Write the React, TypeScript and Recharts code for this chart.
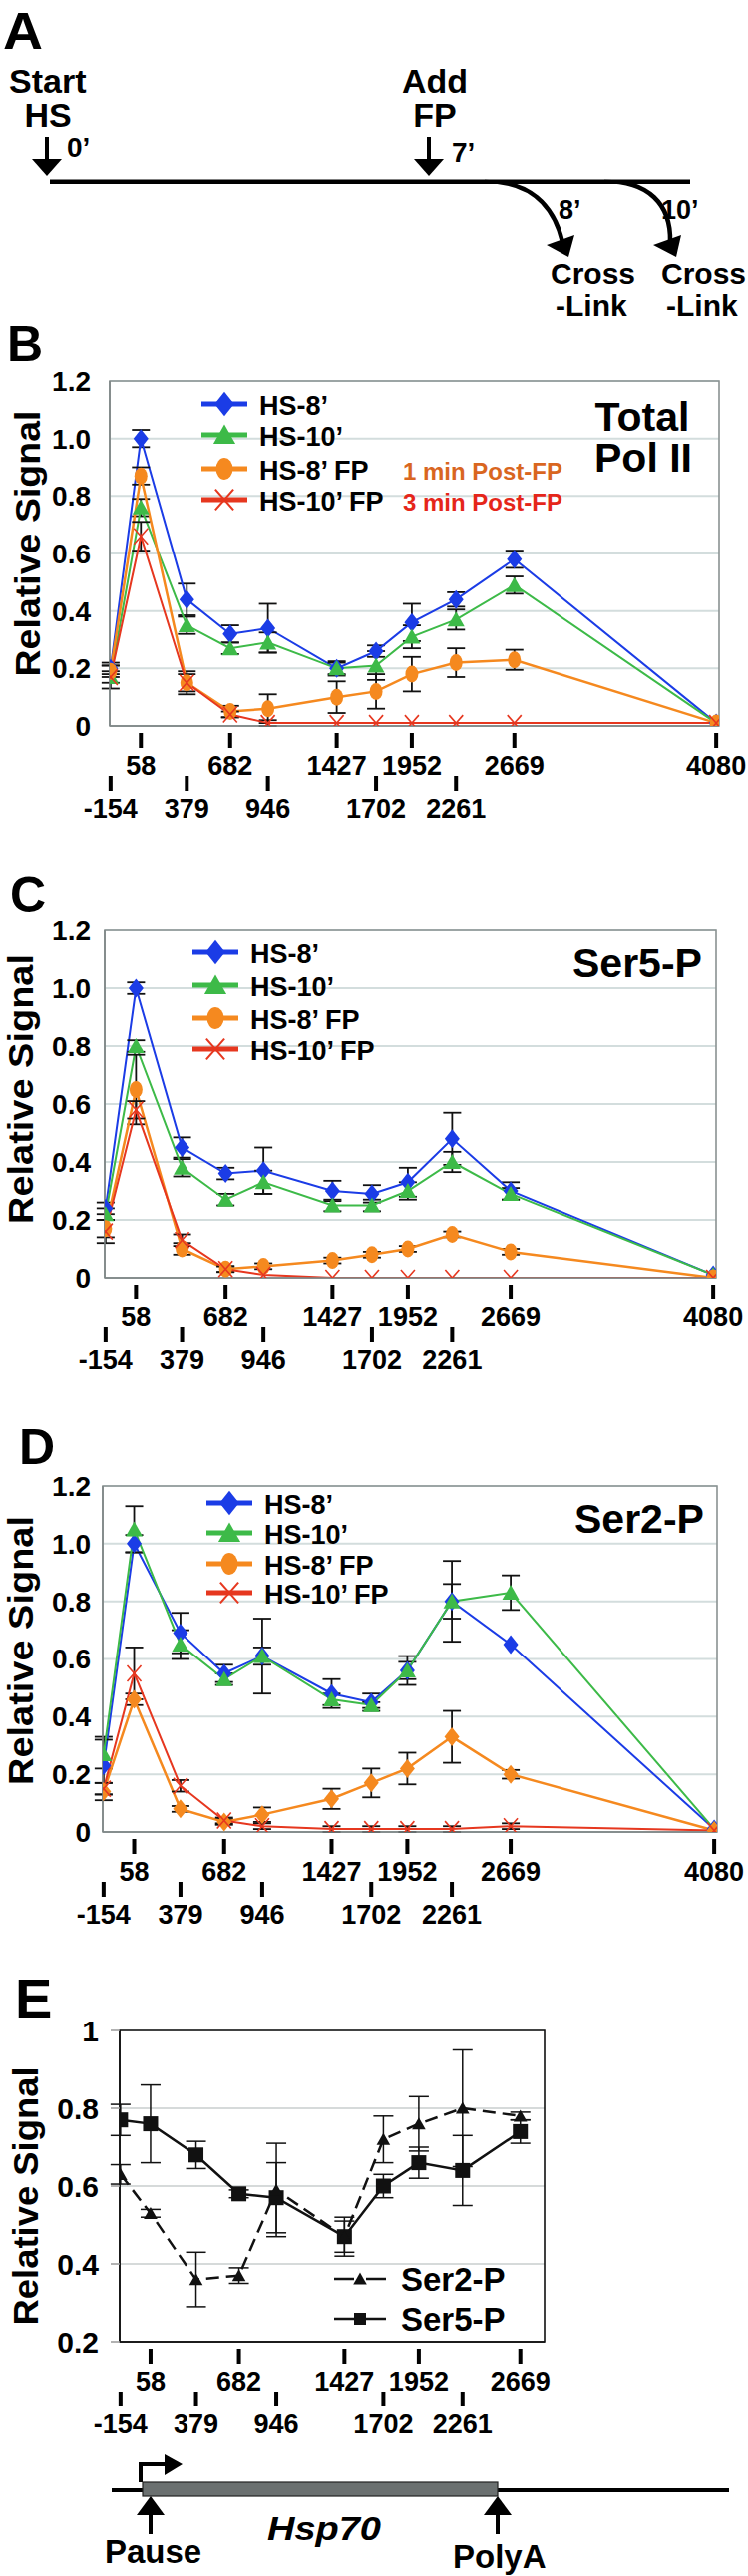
import React from "react";
import { CartesianGrid, ErrorBar, Line, LineChart, ReferenceArea, XAxis, YAxis } from "recharts";

const FONT = "'Liberation Sans', Arial, Helvetica, sans-serif";

// probe positions along Hsp70 (bp)
const positions = [-154, 58, 379, 682, 946, 1427, 1702, 1952, 2261, 2669, 4080];
const positionsE = [-154, 58, 379, 682, 946, 1427, 1702, 1952, 2261, 2669];
const upperRow = [58, 682, 1427, 1952, 2669, 4080];
const signalTicks = [0, 0.2, 0.4, 0.6, 0.8, 1.0, 1.2];
const signalTicksE = [0.2, 0.4, 0.6, 0.8, 1];

// B: Total Pol II
const totHs8 = [0.2, 1.0, 0.44, 0.32, 0.34, 0.2, 0.26, 0.36, 0.44, 0.58, 0.01];
const totHs8Err = [0.02, 0.03, 0.055, 0.03, 0.085, 0.025, 0.02, 0.065, 0.025, 0.03, 0];
const totHs10 = [0.17, 0.76, 0.35, 0.27, 0.29, 0.2, 0.21, 0.31, 0.37, 0.49, 0.01];
const totHs10Err = [0.04, 0.03, 0.03, 0.02, 0.035, 0.02, 0.05, 0.04, 0.035, 0.03, 0];
const totFp8 = [0.19, 0.87, 0.15, 0.05, 0.06, 0.1, 0.12, 0.18, 0.22, 0.23, 0.01];
const totFp8Err = [0.02, 0.03, 0.04, 0.02, 0.05, 0.055, 0.06, 0.06, 0.05, 0.035, 0];
const totFp10 = [0.17, 0.66, 0.15, 0.04, 0.01, 0.01, 0.01, 0.01, 0.01, 0.01, 0.01];
const totFp10Err = [0.02, 0.05, 0.03, 0.01, 0.01, 0, 0, 0, 0, 0, 0];

// C: Ser5-P
const s5Hs8 = [0.24, 1.0, 0.45, 0.36, 0.37, 0.3, 0.29, 0.33, 0.48, 0.3, 0.01];
const s5Hs8Err = [0.02, 0.02, 0.035, 0.02, 0.08, 0.035, 0.03, 0.05, 0.09, 0.03, 0];
const s5Hs10 = [0.22, 0.8, 0.38, 0.27, 0.33, 0.25, 0.25, 0.3, 0.4, 0.29, 0.01];
const s5Hs10Err = [0.02, 0.02, 0.03, 0.02, 0.04, 0.02, 0.02, 0.03, 0.035, 0.02, 0];
const s5Fp8 = [0.17, 0.65, 0.1, 0.03, 0.04, 0.06, 0.08, 0.1, 0.15, 0.09, 0];
const s5Fp8Err = [0.03, 0.12, 0.02, 0.01, 0.01, 0.01, 0.01, 0.01, 0.01, 0.01, 0];
const s5Fp10 = [0.16, 0.58, 0.13, 0.03, 0.01, 0, 0, 0, 0, 0, 0];
const s5Fp10Err = [0.04, 0.03, 0.02, 0.01, 0, 0, 0, 0, 0, 0, 0];

// D: Ser2-P
const s2Hs8 = [0.23, 1.0, 0.69, 0.55, 0.61, 0.48, 0.45, 0.56, 0.8, 0.65, 0.01];
const s2Hs8Err = [0.1, 0.03, 0.07, 0.03, 0.13, 0.05, 0.03, 0.05, 0.06, 0, 0];
const s2Hs10 = [0.27, 1.05, 0.65, 0.53, 0.61, 0.46, 0.44, 0.56, 0.8, 0.83, 0.01];
const s2Hs10Err = [0.05, 0.08, 0.05, 0.02, 0.03, 0.02, 0.01, 0.03, 0.14, 0.06, 0];
const s2Fp8 = [0.14, 0.46, 0.08, 0.035, 0.06, 0.115, 0.17, 0.22, 0.33, 0.2, 0.005];
const s2Fp8Err = [0.03, 0.02, 0.01, 0.01, 0.025, 0.035, 0.05, 0.055, 0.09, 0.015, 0];
const s2Fp10 = [0.15, 0.55, 0.16, 0.04, 0.02, 0.01, 0.01, 0.01, 0.01, 0.02, 0.005];
const s2Fp10Err = [0.02, 0.09, 0.02, 0.01, 0.01, 0.01, 0.01, 0.01, 0.01, 0.01, 0];

// E: relative Ser2-P / Ser5-P
const eSer5 = [0.77, 0.76, 0.68, 0.58, 0.57, 0.47, 0.6, 0.66, 0.64, 0.74];
const eSer5Err = [0.04, 0.1, 0.035, 0.01, 0.09, 0.05, 0.03, 0.04, 0.09, 0.03];
const eSer2 = [0.63, 0.53, 0.36, 0.37, 0.59, 0.47, 0.72, 0.76, 0.8, 0.78];
const eSer2Err = [0.025, 0.01, 0.07, 0.02, 0.12, 0.04, 0.06, 0.07, 0.15, 0.01];

const COLORS = { hs8: "#1b3ce6", hs10: "#3dba48", fp8: "#f5891f", fp10: "#e6371f" };

const rows = (a: number[], ae: number[], b: number[], be: number[], c: number[], ce: number[], d: number[], de: number[]) =>
  positions.map((pos, i) => ({
    pos,
    hs8: a[i], hs8Err: ae[i],
    hs10: b[i], hs10Err: be[i],
    fp8: c[i], fp8Err: ce[i],
    fp10: d[i], fp10Err: de[i],
  }));

const dataB = rows(totHs8, totHs8Err, totHs10, totHs10Err, totFp8, totFp8Err, totFp10, totFp10Err);
const dataC = rows(s5Hs8, s5Hs8Err, s5Hs10, s5Hs10Err, s5Fp8, s5Fp8Err, s5Fp10, s5Fp10Err);
const dataD = rows(s2Hs8, s2Hs8Err, s2Hs10, s2Hs10Err, s2Fp8, s2Fp8Err, s2Fp10, s2Fp10Err);
const dataE = positionsE.map((pos, i) => ({ pos, ser5: eSer5[i], ser5Err: eSer5Err[i], ser2: eSer2[i], ser2Err: eSer2Err[i] }));

type Shape = "diamond" | "triangle" | "ellipse" | "cross" | "square";

function marker(shape: Shape, cx: number, cy: number, color: string, s: number, key?: string) {
  if (cx == null || cy == null || isNaN(cx) || isNaN(cy)) return <g key={key} />;
  if (shape === "diamond") {
    const w = 7.5 * s, h = 9.5 * s;
    return <path key={key} d={`M${cx},${cy - h}L${cx + w},${cy}L${cx},${cy + h}L${cx - w},${cy}Z`} fill={color} />;
  }
  if (shape === "triangle") {
    return <path key={key} d={`M${cx},${cy - 8 * s}L${cx + 8.5 * s},${cy + 7 * s}L${cx - 8.5 * s},${cy + 7 * s}Z`} fill={color} />;
  }
  if (shape === "ellipse") return <ellipse key={key} cx={cx} cy={cy} rx={6.5 * s} ry={8.5 * s} fill={color} />;
  if (shape === "square") return <rect key={key} x={cx - 7.5 * s} y={cy - 7.5 * s} width={15 * s} height={15 * s} fill={color} />;
  const w = 7 * s, h = 8 * s;
  return (
    <g key={key} stroke={color} strokeWidth={1.6 * s}>
      <line x1={cx - w} y1={cy - h} x2={cx + w} y2={cy + h} />
      <line x1={cx - w} y1={cy + h} x2={cx + w} y2={cy - h} />
    </g>
  );
}

const dotFor = (shape: Shape, color: string, s = 1) => (p: any) => marker(shape, p.cx, p.cy, color, s, `m-${p.index}`);

function GeneTick(props: any) {
  const { x, y, payload } = props;
  const upper = upperRow.includes(payload.value);
  return (
    <g>
      <rect x={x - 2} y={y + (upper ? 7 : 50)} width={4} height={15} fill="#000" />
      <text x={x} y={y + (upper ? 49 : 92)} textAnchor="middle" fontFamily={FONT} fontWeight="bold" fontSize={27} fill="#000">
        {payload.value}
      </text>
    </g>
  );
}

function Txt({ x, y, size, children, anchor = "start", fill = "#000", len, italic = false }: any) {
  const extra = len ? { textLength: len, lengthAdjust: "spacingAndGlyphs" } : {};
  return (
    <text x={x} y={y} fontSize={size} fontFamily={FONT} fontWeight="bold" fontStyle={italic ? "italic" : "normal"} textAnchor={anchor} fill={fill} {...extra}>
      {children}
    </text>
  );
}

function PolPanel({ data, plotTop, plotBottom, plotLeft, plotRight, orangeShape }: any) {
  const top = plotTop - 20;
  const height = plotBottom - plotTop + 130;
  const err = { width: 9, strokeWidth: 1.8, stroke: "#111", direction: "y" as const };
  return (
    <div style={{ position: "absolute", left: 0, top }}>
      <LineChart width={750} height={height} data={data} margin={{ top: 20, right: 750 - plotRight, bottom: 109, left: plotLeft - 1 }}>
        <CartesianGrid vertical={false} stroke="#d3dddd" strokeWidth={2} />
        <ReferenceArea x1={-160} x2={4100} y1={0} y2={1.2} fill="none" stroke="#8a9292" strokeWidth={1.6} />
        <XAxis type="number" dataKey="pos" domain={[-160, 4100]} ticks={positions} interval={0} height={1} tickSize={0} tickMargin={0} axisLine={{ stroke: "#7f8787", strokeWidth: 1.6 }} tickLine={false} tick={<GeneTick />} allowDataOverflow />
        <YAxis type="number" domain={[0, 1.2]} ticks={signalTicks} interval={0} width={1} tickSize={0} tickMargin={plotLeft - 91} axisLine={{ stroke: "#7f8787", strokeWidth: 1.6 }} tickLine={false} tickFormatter={(v: number) => (v === 0 ? "0" : v.toFixed(1))} tick={{ fontFamily: FONT, fontWeight: "bold", fontSize: 28, fill: "#000" }} allowDataOverflow />
        <Line type="linear" dataKey="hs8" stroke={COLORS.hs8} strokeWidth={2} dot={dotFor("diamond", COLORS.hs8)} activeDot={false} isAnimationActive={false}>
          <ErrorBar dataKey="hs8Err" {...err} />
        </Line>
        <Line type="linear" dataKey="hs10" stroke={COLORS.hs10} strokeWidth={2} dot={dotFor("triangle", COLORS.hs10)} activeDot={false} isAnimationActive={false}>
          <ErrorBar dataKey="hs10Err" {...err} />
        </Line>
        <Line type="linear" dataKey="fp8" stroke={COLORS.fp8} strokeWidth={2.5} dot={dotFor(orangeShape, COLORS.fp8)} activeDot={false} isAnimationActive={false}>
          <ErrorBar dataKey="fp8Err" {...err} />
        </Line>
        <Line type="linear" dataKey="fp10" stroke={COLORS.fp10} strokeWidth={2} dot={dotFor("cross", COLORS.fp10)} activeDot={false} isAnimationActive={false}>
          <ErrorBar dataKey="fp10Err" {...err} />
        </Line>
      </LineChart>
    </div>
  );
}

function PanelE() {
  const plotTop = 2036, plotBottom = 2348, plotLeft = 120, plotRight = 546;
  const err = { width: 10, strokeWidth: 1.5, stroke: "#111", direction: "y" as const };
  return (
    <div style={{ position: "absolute", left: 0, top: plotTop - 20 }}>
      <LineChart width={750} height={plotBottom - plotTop + 130} data={dataE} margin={{ top: 20, right: 750 - plotRight, bottom: 109, left: plotLeft - 1 }}>
        <CartesianGrid vertical={false} stroke="#d6dada" strokeWidth={2} />
        <ReferenceArea x1={-160} x2={2840} y1={0.2} y2={1} fill="none" stroke="#111" strokeWidth={1.6} />
        <XAxis type="number" dataKey="pos" domain={[-160, 2840]} ticks={positionsE} interval={0} height={1} tickSize={0} tickMargin={0} axisLine={{ stroke: "#111", strokeWidth: 1.6 }} tickLine={false} tick={<GeneTick />} allowDataOverflow />
        <YAxis type="number" domain={[0.2, 1]} ticks={signalTicksE} interval={0} width={1} tickSize={9} tickMargin={12} axisLine={{ stroke: "#111", strokeWidth: 1.6 }} tickLine={{ stroke: "#999", strokeWidth: 1.5 }} tickFormatter={(v: number) => (v === 1 ? "1" : v.toFixed(1))} tick={{ fontFamily: FONT, fontWeight: "bold", fontSize: 30, fill: "#000" }} allowDataOverflow />
        <Line type="linear" dataKey="ser5" stroke="#111" strokeWidth={2.5} dot={dotFor("square", "#111")} activeDot={false} isAnimationActive={false}>
          <ErrorBar dataKey="ser5Err" {...err} />
        </Line>
        <Line type="linear" dataKey="ser2" stroke="#111" strokeWidth={2.5} strokeDasharray="13 7" dot={dotFor("triangle", "#111", 0.8)} activeDot={false} isAnimationActive={false}>
          <ErrorBar dataKey="ser2Err" {...err} />
        </Line>
      </LineChart>
    </div>
  );
}

function Legend4({ cx, rows: ys, textX, orangeShape = "ellipse" }: any) {
  const items: [string, string, Shape][] = [
    ["HS-8\u2019", COLORS.hs8, "diamond"],
    ["HS-10\u2019", COLORS.hs10, "triangle"],
    ["HS-8\u2019 FP", COLORS.fp8, orangeShape],
    ["HS-10\u2019 FP", COLORS.fp10, "cross"],
  ];
  return (
    <g>
      {items.map(([label, color, shape], i) => (
        <g key={label}>
          <line x1={cx - 23} x2={cx + 23} y1={ys[i]} y2={ys[i]} stroke={color} strokeWidth={5} />
          {marker(shape, cx, ys[i], color, 1.3)}
          <Txt x={textX} y={ys[i] + 11} size={27}>{label}</Txt>
        </g>
      ))}
    </g>
  );
}

function DownArrow({ x, top, tip }: any) {
  return (
    <g fill="#000">
      <rect x={x - 2} y={top} width={4} height={tip - top - 15} />
      <polygon points={`${x - 15},${tip - 17} ${x + 15},${tip - 17} ${x},${tip}`} />
    </g>
  );
}

function UpArrow({ x, tip, bottom }: any) {
  return (
    <g fill="#000">
      <rect x={x - 2} y={tip + 17} width={4} height={bottom - tip - 17} />
      <polygon points={`${x - 14},${tip + 19} ${x + 14},${tip + 19} ${x},${tip}`} />
    </g>
  );
}

function YTitle({ x, y, len }: any) {
  return (
    <text transform={`translate(${x},${y}) rotate(-90)`} textAnchor="middle" fontFamily={FONT} fontWeight="bold" fontSize={35} textLength={len} lengthAdjust="spacingAndGlyphs">
      Relative Signal
    </text>
  );
}

export default function App() {
  return (
    <div style={{ position: "relative", width: 750, height: 2583, background: "#fff", overflow: "hidden" }}>
      <style>{"body{margin:0}"}</style>
      <PolPanel data={dataB} plotTop={382} plotBottom={728} plotLeft={110} plotRight={721} orangeShape="ellipse" />
      <PolPanel data={dataC} plotTop={933} plotBottom={1281} plotLeft={105} plotRight={718} orangeShape="ellipse" />
      <PolPanel data={dataD} plotTop={1490} plotBottom={1837} plotLeft={103} plotRight={719} orangeShape="diamond" />
      <PanelE />
      <svg width={750} height={2583} style={{ position: "absolute", left: 0, top: 0, pointerEvents: "none" }}>
        {/* A: timeline */}
        <Txt x={3} y={49} size={52} len={40}>A</Txt>
        <Txt x={9} y={93} size={34}>Start</Txt>
        <Txt x={48} y={127} size={34} anchor="middle">HS</Txt>
        <DownArrow x={47} top={137} tip={176} />
        <Txt x={67} y={157} size={28}>0’</Txt>
        <Txt x={436} y={93} size={34} anchor="middle">Add</Txt>
        <Txt x={436} y={127} size={34} anchor="middle">FP</Txt>
        <DownArrow x={430} top={137} tip={176} />
        <Txt x={453} y={162} size={28}>7’</Txt>
        <line x1={50} x2={692} y1={182} y2={182} stroke="#000" strokeWidth={5} />
        <path d="M486,182 C530,182 555,205 564,243" stroke="#000" strokeWidth={4.5} fill="none" />
        <polygon points="548,246 576,236 570,258" fill="#000" />
        <path d="M606,182 C650,182 673,205 672,243" stroke="#000" strokeWidth={4.5} fill="none" />
        <polygon points="655,246 683,236 678,258" fill="#000" />
        <Txt x={560} y={220} size={27}>8’</Txt>
        <Txt x={663} y={220} size={27}>10’</Txt>
        <Txt x={552} y={285} size={30}>Cross</Txt>
        <Txt x={557} y={317} size={30}>-Link</Txt>
        <Txt x={663} y={285} size={30}>Cross</Txt>
        <Txt x={668} y={317} size={30}>-Link</Txt>

        {/* B */}
        <Txt x={7} y={362} size={50}>B</Txt>
        <YTitle x={40} y={545} len={267} />
        <Legend4 cx={225} rows={[405, 436, 470, 501]} textX={260} />
        <Txt x={404} y={481} size={24} fill="#d9661f">1 min Post-FP</Txt>
        <Txt x={404} y={512} size={24} fill="#e5261a">3 min Post-FP</Txt>
        <Txt x={644} y={432} size={41} anchor="middle">Total</Txt>
        <Txt x={645} y={473} size={41} anchor="middle">Pol II</Txt>

        {/* C */}
        <Txt x={10} y={914} size={50}>C</Txt>
        <YTitle x={33} y={1092} len={270} />
        <Legend4 cx={216} rows={[955, 988, 1021, 1052]} textX={251} />
        <Txt x={574} y={980} size={41}>Ser5-P</Txt>

        {/* D */}
        <Txt x={19} y={1468} size={50}>D</Txt>
        <YTitle x={33} y={1655} len={270} />
        <Legend4 cx={230} rows={[1507, 1537, 1568, 1597]} textX={265} orangeShape="ellipse" />
        <Txt x={576} y={1537} size={41}>Ser2-P</Txt>

        {/* E */}
        <Txt x={15} y={2023} size={56}>E</Txt>
        <YTitle x={38} y={2202} len={259} />
        <line x1={335} x2={355} y1={2285} y2={2285} stroke="#111" strokeWidth={2.5} />
        <line x1={367} x2={387} y1={2285} y2={2285} stroke="#111" strokeWidth={2.5} />
        {marker("triangle", 361, 2285, "#111", 0.8)}
        <Txt x={402} y={2297} size={33}>Ser2-P</Txt>
        <line x1={335} x2={387} y1={2325} y2={2325} stroke="#111" strokeWidth={2.5} />
        {marker("square", 361, 2325, "#111", 0.8)}
        <Txt x={402} y={2337} size={33}>Ser5-P</Txt>

        {/* gene diagram */}
        <line x1={112} x2={731} y1={2497} y2={2497} stroke="#000" strokeWidth={4} />
        <rect x={143} y={2489} width={356} height={14} fill="#6b7070" stroke="#222" strokeWidth={1.2} />
        <path d="M141,2489 L141,2471 L167,2471" stroke="#000" strokeWidth={4} fill="none" />
        <polygon points="165,2461 183,2471 165,2482" fill="#000" />
        <UpArrow x={151} tip={2503} bottom={2541} />
        <UpArrow x={499} tip={2503} bottom={2541} />
        <Txt x={105} y={2570} size={33}>Pause</Txt>
        <Txt x={268} y={2547} size={34} italic len={114}>Hsp70</Txt>
        <Txt x={454} y={2575} size={33}>PolyA</Txt>
      </svg>
    </div>
  );
}
